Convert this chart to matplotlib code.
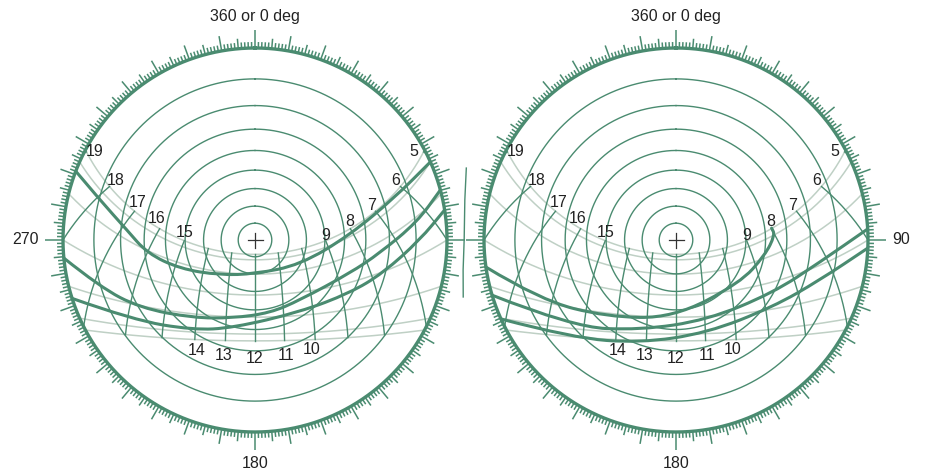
import numpy as np
import matplotlib.pyplot as plt
from matplotlib.collections import LineCollection
from matplotlib.path import Path
from matplotlib.patches import PathPatch

plt.rcParams['font.family'] = ['Liberation Sans', 'DejaVu Sans']

GREEN = '#4a8b70'
GREY = '#bfd0c5'
PX = 192.0  # pixels per horizon radius

# site latitude and sun-path dates (declination, deg)
latitude = 32.0
month_declinations = [23.44, 20.2, 11.8, 0.0, -11.8, -20.2, -23.44]
hour_marks = [5, 6, 7, 8, 9, 10, 11, 12, 13, 14, 15, 16, 17, 18, 19]
altitude_rings = [10, 20, 30, 40, 50, 60, 70, 80]
top_hours = [5, 6, 7, 8, 9, 15, 16, 17, 18, 19]
bottom_hours = [10, 11, 12, 13, 14]

# label offsets from the hour point, in pixels (right, down)
label_offsets = {5: (-10, 0), 6: (-5, -6), 7: (-4, -6), 8: (-1, -7), 9: (0, -5),
                 15: (0, -8), 16: (-3, -10), 17: (3, -9), 18: (6, -6), 19: (8, 0),
                 10: (-4, 10), 11: (1, 15), 12: (0, 18), 13: (-2, 15), 14: (2, 11)}

# thick curves (azimuth deg, altitude deg)
left_a_az = [291, 284.5, 274.5, 263, 249, 225, 180, 119, 87, 73, 66]
left_a_alt = [0, 10.3, 22.4, 31, 44.6, 61, 70, 60, 37.3, 15.3, 0]
left_b_az = [264.6, 253.1, 239.4, 218.5, 195.8, 168.4, 143.1, 109.2, 95.9, 83.7, 74.9]
left_b_alt = [0, 9.7, 20.4, 35.2, 44.2, 47.6, 47.3, 34.7, 23.6, 9.3, 0]
left_c_az = [252.3, 236.7, 214.6, 194, 148, 119.2, 104.5, 90, 81]
left_c_alt = [0, 15.6, 30.7, 39.5, 42.3, 31, 20.9, 8.7, 0]
left_edge_az = [71.2, 79.2, 90, 98.2, 105.3]
left_edge_alt = [-8.6, -6.1, -4.9, -5.2, -6.7]

right_a_az = [261.9, 246.2, 221.9, 182.2, 123.9, 99.6, 87.1, 82.9]
right_a_alt = [0, 14.5, 33.4, 45.8, 46.2, 39.6, 35.4, 36.7]
right_b_az = [253.3, 229.8, 201.8, 158.8, 118.65, 98.7, 86.7]
right_b_alt = [0, 19.8, 36.4, 41.8, 30.2, 15.6, 0]
right_c_az = [245.7, 226.4, 199.3, 161.6, 124.6, 105.5, 92.4]
right_c_alt = [0, 17, 30.8, 35.9, 26.9, 14.2, 0]


def plane(az, alt):
    a = np.radians(np.asarray(az, dtype=float))
    z = np.radians(90 - np.asarray(alt, dtype=float))
    r = np.tan(z / 2)
    return r * np.sin(a), r * np.cos(a)


def sun(dec, hour):
    phi = np.radians(latitude)
    d = np.radians(dec)
    h = np.radians(15 * (np.asarray(hour, dtype=float) - 12))
    s = np.sin(phi) * np.sin(d) + np.cos(phi) * np.cos(d) * np.cos(h)
    alt = np.degrees(np.arcsin(s))
    az = np.degrees(np.arctan2(-np.cos(d) * np.sin(h),
                               np.sin(d) * np.cos(phi) - np.cos(d) * np.sin(phi) * np.cos(h)))
    return az % 360, alt


def smooth_curve(ax, x, y, **kw):
    # quadratic B-spline style path through the read points
    verts = [(x[0], y[0])]
    codes = [Path.MOVETO]
    for i in range(1, len(x) - 1):
        verts += [(x[i], y[i]), ((x[i] + x[i + 1]) / 2, (y[i] + y[i + 1]) / 2)]
        codes += [Path.CURVE3, Path.CURVE3]
    verts.append((x[-1], y[-1]))
    codes.append(Path.LINETO)
    ax.add_patch(PathPatch(Path(verts, codes), fill=False, **kw))


def draw_panel(ax, curves, side_label):
    t = np.linspace(0, 2 * np.pi, 721)
    # grey sun paths
    for dec in month_declinations:
        az, alt = sun(dec, np.linspace(0, 24, 2881))
        x, y = plane(az, alt)
        x[alt < -0.05] = np.nan
        y[alt < -0.05] = np.nan
        ax.plot(x, y, color=GREY, lw=1.1, zorder=1)
    # altitude rings
    for a in altitude_rings:
        r = np.tan(np.radians(90 - a) / 2)
        ax.plot(r * np.sin(t), r * np.cos(t), color=GREEN, lw=1.0, zorder=2)
    # hour lines
    for hr in hour_marks:
        az, alt = sun(np.linspace(-23.44, 23.44, 300), hr)
        x, y = plane(az, alt)
        x[alt < 0] = np.nan
        y[alt < 0] = np.nan
        ax.plot(x, y, color=GREEN, lw=1.0, zorder=2)
    # hour labels
    for hr in hour_marks:
        dec = 23.44 if hr in top_hours else -23.44
        az, alt = sun(dec, hr)
        x, y = plane(az, max(float(alt), 0.0))
        dx, dy = label_offsets[hr]
        ax.annotate(str(hr), (x, y), xytext=(dx * 0.72, -dy * 0.72),
                    textcoords='offset points', ha='center', va='center',
                    fontsize=11.5, color='#222222', zorder=5)
    # horizon and compass ticks
    ax.plot(np.sin(t), np.cos(t), color=GREEN, lw=2.4, zorder=3)
    segs = []
    for deg in range(360):
        if deg % 90 == 0:
            ln = 18
        elif deg % 10 == 0:
            ln = 15
        elif deg % 5 == 0:
            ln = 10
        else:
            ln = 6
        a = np.radians(deg)
        r2 = 1 + ln / PX
        segs.append([(np.sin(a), np.cos(a)), (r2 * np.sin(a), r2 * np.cos(a))])
    ax.add_collection(LineCollection(segs, colors=GREEN, linewidths=1.1, zorder=3))
    # thick curves
    for az, alt in curves:
        x, y = plane(az, alt)
        smooth_curve(ax, x, y, edgecolor=GREEN, lw=2.2, zorder=4, capstyle='round')
    # centre cross
    c = 7.5 / PX
    ax.plot([-c, c], [0, 0], color='#333333', lw=0.9, zorder=5)
    ax.plot([0, 0], [-c, c], color='#333333', lw=0.9, zorder=5)
    # compass labels
    rl = 1 + 24 / PX
    ax.text(0, rl, '360 or 0 deg', ha='center', va='bottom', fontsize=11.5, color='#222222')
    ax.text(0, -rl, '180', ha='center', va='top', fontsize=11.5, color='#222222')
    if side_label == 'west':
        ax.text(-rl, 0, '270', ha='right', va='center', fontsize=11.5, color='#222222')
    else:
        ax.text(rl, 0, '90', ha='left', va='center', fontsize=11.5, color='#222222')
    ax.set_axis_off()


fig = plt.figure(figsize=(9.26, 4.72), dpi=100)
W, H = 926.0, 472.0

ax1 = fig.add_axes([0, 0, 463 / W, 1])
ax1.set_xlim(-255 / PX, (463 - 255) / PX)
ax1.set_ylim(-(H - 240) / PX, 240 / PX)
draw_panel(ax1, [(left_a_az, left_a_alt), (left_b_az, left_b_alt), (left_c_az, left_c_alt)], 'west')
ex, ey = plane(left_edge_az, left_edge_alt)
ax1.plot(ex, ey, color=GREEN, lw=1.0)

ax2 = fig.add_axes([463 / W, 0, 463 / W, 1])
ax2.set_xlim((463 - 676) / PX, (926 - 676) / PX)
ax2.set_ylim(-(H - 240) / PX, 240 / PX)
draw_panel(ax2, [(right_a_az, right_a_alt), (right_b_az, right_b_alt), (right_c_az, right_c_alt)], 'east')

for a in (ax1, ax2):
    for art in a.get_children():
        try:
            art.set_clip_on(False)
        except Exception:
            pass

fig.savefig('out.png', dpi=100)
